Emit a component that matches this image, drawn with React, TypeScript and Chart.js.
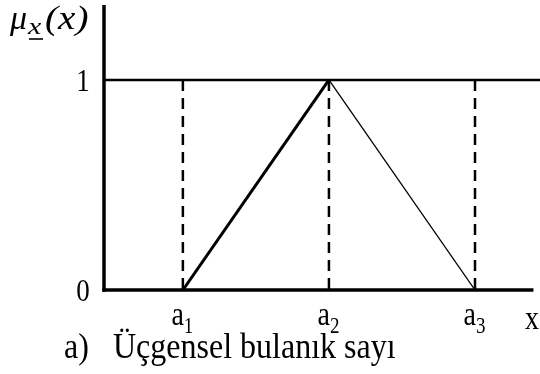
import React, { useEffect, useRef } from "react";
import { Chart, registerables } from "chart.js";

Chart.register(...registerables);

// Data
const categories = ["a1", "a2", "a3"];
const aValues = [1, 2, 3];
const membership = [0, 1, 0];
const yTicks = [0, 1];
const yTickLabels = ["0", "1"];
const xMin = 0.46;
const xMax = 3.445;
const xAxisEnd = 3.4;
const yMax = 1.357;
const captionPrefix = "a)";
const captionText = "Üçgensel bulanık sayı";

const FONT = "'Liberation Serif', 'Times New Roman', serif";

function txt(ctx: any, s: string, x: number, y: number, font: string, align: string, sy = 1.2, sx = 1) {
  ctx.save();
  ctx.font = font;
  ctx.textAlign = align;
  ctx.translate(x, y);
  ctx.scale(sx, sy);
  ctx.fillText(s, 0, 0);
  ctx.restore();
}

const labelsPlugin = {
  id: "labelsPlugin",
  afterDraw(chart: any) {
    const { ctx, chartArea, scales } = chart;
    const xs = scales.x;
    const ys = scales.y;
    ctx.save();
    ctx.strokeStyle = "#000";
    ctx.lineCap = "butt";
    // y axis
    ctx.lineWidth = 3.5;
    ctx.beginPath();
    ctx.moveTo(chartArea.left, chartArea.top);
    ctx.lineTo(chartArea.left, ys.getPixelForValue(0) + 1.75);
    ctx.stroke();
    // x axis
    ctx.beginPath();
    ctx.moveTo(chartArea.left - 1.75, ys.getPixelForValue(0));
    ctx.lineTo(xs.getPixelForValue(xAxisEnd), ys.getPixelForValue(0));
    ctx.stroke();

    ctx.fillStyle = "#000";
    ctx.textBaseline = "alphabetic";
    // y tick labels
    yTicks.forEach((v, i) => {
      txt(ctx, yTickLabels[i], 83, ys.getPixelForValue(v) + 11, `27px ${FONT}`, "center", 1.2);
    });
    // x tick labels a1, a2, a3
    const base = ys.getPixelForValue(0) + 35;
    categories.forEach((c, i) => {
      const px = xs.getPixelForValue(aValues[i]);
      txt(ctx, c[0], px + 1, base, `28px ${FONT}`, "right", 1.22);
      txt(ctx, c.slice(1), px + 1, base + 8, `19px ${FONT}`, "left", 1.22);
    });
    // x axis label
    txt(ctx, "x", 532, base + 4, `28px ${FONT}`, "center", 1.2);
    // caption
    txt(ctx, captionPrefix, 64, 358, `32px ${FONT}`, "left", 1.15);
    txt(ctx, captionText, 113, 358, `32px ${FONT}`, "left", 1.15);
    // mu label
    txt(ctx, "μ", 10, 29, `italic 34px ${FONT}`, "left", 1.0, 1.0);
    txt(ctx, "x", 28, 34, `italic 23px ${FONT}`, "left", 1.0, 1.3);
    ctx.lineWidth = 1.6;
    ctx.beginPath();
    ctx.moveTo(29, 39);
    ctx.lineTo(43, 39);
    ctx.stroke();
    txt(ctx, "(x)", 45, 29, `italic 34px ${FONT}`, "left", 1.0, 1.15);
    ctx.restore();
  },
};

export default function App() {
  const ref = useRef<HTMLCanvasElement | null>(null);
  useEffect(() => {
    if (!ref.current) return;
    const black = "#000";
    const dashSets = aValues.map((a) => ({
      data: [
        { x: a, y: 1 },
        { x: a, y: 0 },
      ],
      borderColor: black,
      borderWidth: 2.5,
      borderDash: [11, 7],
      pointRadius: 0,
    }));
    const chart = new Chart(ref.current, {
      type: "line",
      data: {
        datasets: [
          {
            data: [
              { x: xMin, y: 1 },
              { x: xMax, y: 1 },
            ],
            borderColor: black,
            borderWidth: 2.5,
            pointRadius: 0,
          },
          ...dashSets,
          {
            data: [
              { x: aValues[0], y: membership[0] },
              { x: aValues[1], y: membership[1] },
            ],
            borderColor: black,
            borderWidth: 3,
            pointRadius: 0,
          },
          {
            data: [
              { x: aValues[1], y: membership[1] },
              { x: aValues[2], y: membership[2] },
            ],
            borderColor: black,
            borderWidth: 1.3,
            pointRadius: 0,
          },
        ],
      },
      options: {
        animation: false,
        responsive: false,
        devicePixelRatio: 1,
        layout: { padding: { left: 104, right: 0, top: 5, bottom: 84 } },
        plugins: { legend: { display: false }, tooltip: { enabled: false } },
        scales: {
          x: { type: "linear", min: xMin, max: xMax, display: false },
          y: { type: "linear", min: 0, max: yMax, display: false },
        },
      },
      plugins: [labelsPlugin],
    });
    return () => chart.destroy();
  }, []);
  return (
    <div style={{ position: "absolute", left: 0, top: 0, width: 540, height: 374, background: "#fff" }}>
      <canvas ref={ref} width={540} height={374} />
    </div>
  );
}
